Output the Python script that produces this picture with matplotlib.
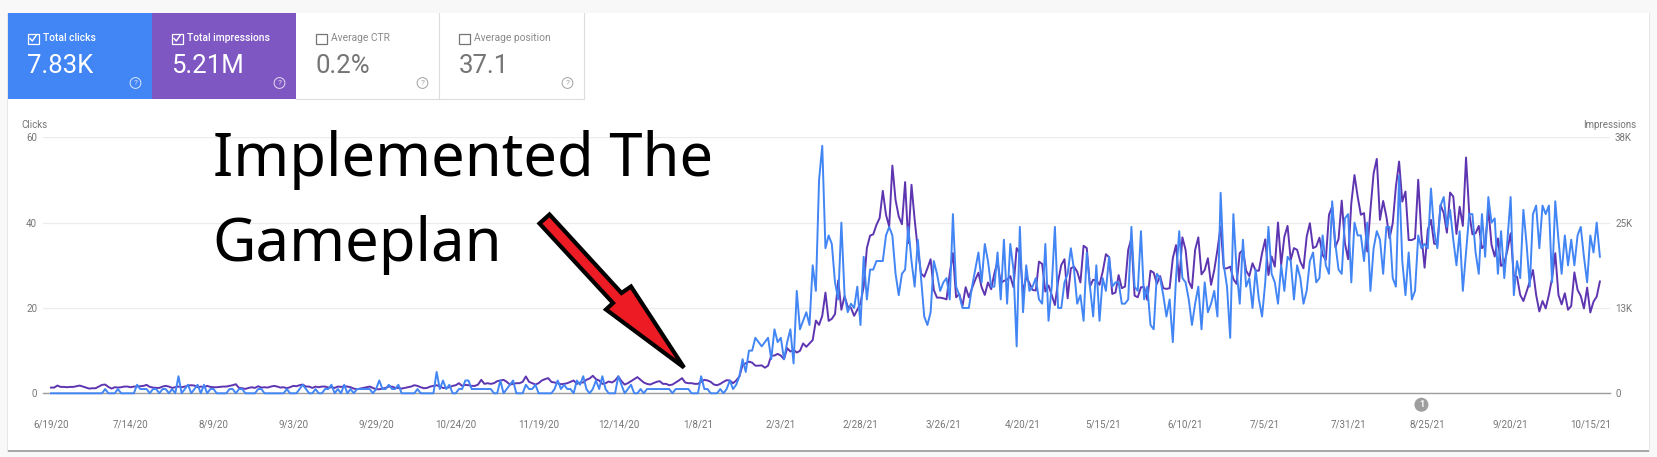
from matplotlib import pyplot as plt
from matplotlib.patches import Rectangle, Circle, Polygon
import pandas as pd

plt.rcParams['font.family'] = ['Roboto', 'DejaVu Sans']

W, H = 1657, 457

########################################################
# data
tick_dates = ['6/19/20', '7/14/20', '8/9/20', '9/3/20', '9/29/20', '10/24/20', '11/19/20', '12/14/20', '1/8/21',
              '2/3/21', '2/28/21', '3/26/21', '4/20/21', '5/15/21', '6/10/21', '7/5/21', '7/31/21', '8/25/21',
              '9/20/21', '10/15/21']
clicks_ticks = [0, 20, 40, 60]
impressions_ticks = [0, 12667, 25333, 38000]
impressions_labels = ['0', '13K', '25K', '38K']
annotation_date = '8/23/21'

clicks = [0, 0, 0, 0, 0, 0, 0, 0, 0, 0,
          0, 0, 0, 0, 0, 0, 0, 1, 0, 0,
          0, 1, 0, 0, 0, 0, 0, 2, 1, 1,
          1, 0, 1, 1, 0, 1, 1, 0, 1, 0,
          4, 0, 1, 2, 0, 1, 2, 0, 2, 0,
          1, 1, 0, 0, 0, 0, 1, 1, 0, 1,
          1, 0, 0, 0, 0, 1, 1, 0, 0, 0,
          0, 0, 0, 0, 1, 0, 0, 0, 1, 2,
          1, 0, 0, 1, 0, 0, 1, 1, 2, 0,
          1, 0, 2, 0, 1, 0, 1, 1, 1, 1,
          1, 0, 1, 3, 1, 1, 2, 1, 1, 2,
          0, 0, 0, 0, 0, 1, 0, 0, 0, 0,
          0, 5, 1, 3, 1, 2, 0, 0, 1, 1,
          3, 3, 1, 1, 1, 1, 1, 1, 1, 0,
          0, 3, 0, 1, 2, 3, 0, 0, 0, 2,
          1, 1, 2, 0, 0, 0, 0, 0, 1, 3,
          1, 2, 1, 1, 0, 3, 2, 4, 1, 0,
          1, 3, 1, 4, 1, 0, 0, 0, 4, 2,
          0, 1, 2, 0, 0, 1, 0, 1, 1, 1,
          1, 1, 1, 1, 1, 0, 1, 1, 1, 1,
          1, 0, 0, 0, 4, 1, 1, 0, 0, 0,
          1, 0, 1, 3, 1, 2, 4, 8, 5, 10,
          10, 13, 12, 11, 12, 13, 8, 15, 12, 13,
          8, 12, 15, 7, 24, 15, 17, 19, 16, 30,
          24, 50, 58, 34, 37, 35, 26, 22, 40, 23,
          19, 21, 20, 25, 16, 32, 22, 29, 29, 31,
          31, 31, 37, 39, 37, 28, 23, 28, 29, 39,
          31, 25, 36, 27, 18, 16, 19, 31, 28, 24,
          26, 27, 22, 42, 25, 23, 20, 20, 20, 25,
          29, 33, 26, 35, 31, 25, 25, 33, 22, 36,
          21, 35, 29, 11, 39, 19, 30, 24, 25, 27,
          22, 21, 35, 17, 25, 39, 20, 20, 26, 28,
          34, 29, 21, 23, 17, 33, 25, 18, 30, 17,
          27, 24, 32, 25, 26, 26, 21, 21, 22, 39,
          25, 24, 38, 22, 25, 16, 15, 28, 27, 23,
          18, 22, 12, 27, 38, 27, 26, 22, 16, 21,
          25, 15, 26, 19, 21, 24, 18, 47, 30, 25,
          13, 42, 29, 21, 36, 25, 27, 20, 29, 22,
          18, 26, 39, 28, 26, 21, 30, 24, 32, 31,
          22, 30, 27, 21, 24, 31, 33, 26, 27, 37,
          30, 28, 45, 35, 29, 28, 41, 42, 26, 40,
          37, 37, 31, 40, 24, 34, 38, 36, 28, 39,
          39, 27, 25, 51, 31, 23, 33, 22, 24, 37,
          34, 35, 34, 48, 38, 34, 44, 46, 39, 43,
          36, 30, 38, 24, 33, 42, 42, 33, 28, 42,
          32, 46, 40, 41, 28, 38, 27, 36, 46, 23,
          31, 27, 43, 35, 25, 42, 44, 34, 44, 42,
          44, 26, 45, 36, 28, 37, 30, 36, 30, 37,
          39, 32, 26, 37, 33, 40, 32]

impressions = [850, 850, 1150, 950, 950, 900, 950, 950, 1050, 1150,
               1000, 850, 700, 750, 750, 1000, 1250, 1300, 950, 700,
               900, 850, 900, 1000, 1000, 900, 1000, 1000, 1050, 1100,
               1250, 950, 850, 800, 800, 1000, 1100, 1000, 800, 900,
               1000, 900, 1000, 1150, 1200, 1150, 900, 1000, 900, 1100,
               950, 900, 900, 950, 1000, 1000, 1100, 1200, 1350, 800,
               750, 650, 800, 900, 800, 1050, 850, 900, 850, 1000,
               1100, 1000, 850, 900, 750, 900, 1100, 1050, 1200, 1300,
               1000, 1000, 800, 1000, 900, 1000, 1000, 850, 900, 800,
               1000, 950, 1050, 1000, 900, 700, 600, 700, 800, 900,
               1000, 800, 600, 600, 700, 800, 1000,
               1000, 800, 800, 700, 800, 900, 1000, 1200, 1100, 900,
               750, 800, 1000, 1100, 1200, 1000, 800, 800, 900, 1100,
               1200, 1500, 1100, 1250, 1200, 1100, 1100, 1300, 2000, 1400,
               1500, 1400, 1500, 1800, 1900, 2000, 1700, 1300, 1400, 1500,
               1500, 1700, 2500, 1700, 1500, 1300, 1500, 1900, 2100, 2250,
               1700, 1600, 1500, 1350, 1400, 1500, 1700, 1900, 1400, 1600,
               1600, 2000, 2200, 2600, 2100, 1900, 1400, 1500, 1750, 1600,
               1900, 2500, 1800, 1300, 1500, 1800, 2100, 2400, 2000, 1600,
               1400, 1300, 1500, 1700, 1800, 1400, 1400, 1200, 1300, 1600,
               1900, 2250, 1600, 1500, 1500, 1400, 1400, 1700, 2000, 1900,
               1700, 1300, 1200, 1400, 1700, 1950, 1900, 1500,
               1900, 2500, 4200, 4450, 4700, 4550, 4100, 4100, 4150, 3800,
               4100, 5600, 5600, 5850, 5600, 5050, 6700, 6200, 6450, 6050,
               6300, 7400, 6900, 7400, 7900, 10800, 10150, 11500, 14950, 10750,
               11050, 11750, 16750, 12400, 14450, 12850, 12700, 11500, 12400, 13350,
               15850, 21550, 23400, 23600, 25000, 26000, 30050, 26500, 24750, 33800,
               28700, 26250, 25100, 31350, 22300, 30950, 25750, 21300, 17800, 17300,
               18550, 19900, 15350, 14200, 14200,
               14100, 13950, 17800, 20800, 14250, 14750, 12950, 15750, 14250, 15600,
               16850, 17900, 15750, 14600, 16450, 15450, 17800, 19550, 16350, 16700,
               16850, 17400, 15750, 21550, 20800, 14850, 17300, 16350, 15350, 15250,
               19550, 19200, 15100, 16000, 14600, 13100, 16600, 19050, 19900, 14100,
               18550, 18800, 18050, 16450, 21900, 21550, 15850, 16850, 16750, 16100,
               18050, 20650, 20200, 14750, 14950, 17550, 15600, 15850, 21300, 23000,
               14500, 14250, 15750, 15750, 13850, 18200, 17900, 16250, 17400,
               15600, 15500, 15600, 20050, 22000, 16600, 23150, 21300, 16600, 15600,
               21300, 23150, 17650, 18300, 20050, 16100, 18300, 21300, 24750, 18550,
               18550, 18800, 16950, 16250, 20800, 21300, 18200, 17400, 19300, 18200,
               18200, 20800, 22850, 17550, 20300, 18800, 25350, 19050, 23250, 24850,
               19800, 21550, 21300, 19550, 18550, 23250, 25250, 21550, 21800, 23100,
               20550, 19800, 26500, 27700, 21700, 22900, 28600, 22300, 19900, 28200,
               32400, 29200, 26500, 26750, 21050, 27200, 32650, 34800, 25750,
               28550, 26250, 23000, 25250, 30700, 34400, 28450, 29950, 22750, 22750,
               23000, 31700, 23500, 18650, 24250, 25750, 22200, 22150, 27950, 26750,
               23850, 29800, 29200, 23650, 27700, 24850, 35000, 26750, 23600, 23750,
               24850, 21550, 22050, 27450, 22050, 20300, 23000, 18900, 19300, 21300,
               23750, 17400, 17300, 14600, 13700, 15100, 16600, 18300, 14600, 12150,
               13700, 12600, 14600, 17100, 20800, 14600, 13200, 14850, 12400, 12950,
               17950, 15350, 14450, 12600, 15700, 12000, 13600, 14350, 16600]

tile_titles = ['Total clicks', 'Total impressions', 'Average CTR', 'Average position']
tile_values = ['7.83K', '5.21M', '0.2%', '37.1']
tile_left = [8, 152, 296, 439]
tile_right = [152, 296, 439, 584]
tile_color = ['#4285f4', '#7e57c2', 'white', 'white']
tile_checked = [True, True, False, False]

########################################################
# page, card and tiles, drawn in pixel coordinates
fig = plt.figure(figsize=(W / 100, H / 100), dpi=100, facecolor='#f8f8f8')
bg = fig.add_axes([0, 0, 1, 1], zorder=0)
bg.set_xlim(0, W)
bg.set_ylim(H, 0)
bg.axis('off')
bg.add_patch(Rectangle((7, 13), 1643, 439, fc='#e6e6e6', ec='none'))
bg.add_patch(Rectangle((8, 13), 1641, 438.5, fc='#a8a8a8', ec='none'))
bg.add_patch(Rectangle((8, 13), 1641, 437, fc='white', ec='none'))

for k in range(4):
    x0, x1 = tile_left[k], tile_right[k]
    filled = tile_color[k] != 'white'
    bg.add_patch(Rectangle((x0, 13), x1 - x0, 85.7, fc=tile_color[k], ec='none'))
    if not filled:
        bg.plot([x1 - 0.5, x1 - 0.5], [13, 98.7], color='#dcdcdc', lw=0.8)
        bg.plot([x0, x1], [98.7, 98.7], color='#dcdcdc', lw=0.8)
    off = 19.5
    bg.add_patch(Rectangle((x0 + off, 33.5), 11, 10, fc='none', ec='white' if filled else '#757575', lw=0.9))
    if tile_checked[k]:
        bg.plot([x0 + off + 2.5, x0 + off + 4.8, x0 + off + 8.6], [38.5, 41, 35.5], color='white', lw=1.0)
    bg.text(x0 + off + 15.8, 37.8, tile_titles[k], color='white' if filled else '#8a8a8a', fontsize=7.4,
            fontweight='medium' if filled else 'normal', ha='left', va='center')
    bg.text(x0 + off, 66, tile_values[k], color='white' if filled else '#757575', fontsize=18.5,
            ha='left', va='center')
    bg.add_patch(Circle((x1 - 16.5, 83), 5.4, fc='none', ec='white' if filled else '#8a8a8a', lw=0.7,
                        alpha=0.8))
    bg.text(x1 - 16.5, 83, '?', color='white' if filled else '#8a8a8a', fontsize=6, ha='center', va='center',
            alpha=0.8)

########################################################
# chart
ax_left, ax_right, ax_top, ax_bottom = 43, 1610, 137.3, 393.3
px_per_day = 3.187
first_x = 51
ax1 = fig.add_axes([ax_left / W, 1 - ax_bottom / H, (ax_right - ax_left) / W, (ax_bottom - ax_top) / H], zorder=1)
ax1.patch.set_alpha(0)
ax1.set_xlim((ax_left - first_x) / px_per_day, (ax_right - first_x) / px_per_day)
ax1.set_ylim(0, 60)
for s in ax1.spines.values():
    s.set_visible(False)
ax1.spines['bottom'].set_visible(True)
ax1.spines['bottom'].set_color('#9e9e9e')
ax1.spines['bottom'].set_linewidth(1.0)
ax1.set_yticks(clicks_ticks)
ax1.grid(axis='y', color='#ececec', lw=0.9)
ax1.set_axisbelow(True)
ax1.tick_params(axis='y', length=0, pad=4.3, labelsize=7, labelcolor='#757575')

start = pd.to_datetime(tick_dates[0], format='%m/%d/%y')
tick_days = [(pd.to_datetime(d, format='%m/%d/%y') - start).days for d in tick_dates]
ax1.set_xticks(tick_days)
ax1.set_xticklabels(tick_dates)
ax1.tick_params(axis='x', length=0, pad=19, labelsize=7, labelcolor='#757575')

ax2 = ax1.twinx()
ax2.set_zorder(1)
ax2.set_ylim(0, 38000)
for s in ax2.spines.values():
    s.set_visible(False)
ax2.set_yticks(impressions_ticks)
ax2.set_yticklabels(impressions_labels)
ax2.tick_params(axis='y', length=0, pad=3.6, labelsize=7, labelcolor='#757575')

days = list(range(len(clicks)))
ax2.plot(days, impressions, color='#5e35b1', lw=1.4, clip_on=False, zorder=2)
# clicks go on top, so they share the impressions axes with a scale of their own
ax2.plot(days, [c * 38000 / 60 for c in clicks], color='#4285f4', lw=1.4, clip_on=False, zorder=3)

########################################################
# labels, marker and the hand drawn arrow
top = fig.add_axes([0, 0, 1, 1], zorder=3)
top.set_xlim(0, W)
top.set_ylim(H, 0)
top.axis('off')
top.patch.set_alpha(0)

top.text(21, 124.8, 'Clicks', color='#757575', fontsize=7, ha='left', va='center')
top.text(1636, 124.8, 'Impressions', color='#757575', fontsize=7, ha='right', va='center')

annotation_day = (pd.to_datetime(annotation_date, format='%m/%d/%y') - start).days
marker_x = first_x + annotation_day * px_per_day
top.add_patch(Circle((marker_x, 404.7), 7, fc='#9e9e9e', ec='none'))
top.text(marker_x, 404.5, '1', color='white', fontsize=6.5, fontweight='bold', ha='center', va='center')

top.text(213, 176, 'Implemented The', color='black', fontsize=43, family='Noto Sans', ha='left', va='baseline')
top.text(212, 260.7, 'Gameplan', color='black', fontsize=43, family='Noto Sans', ha='left', va='baseline')

arrow = [(549.5, 214.5), (539.5, 223.5), (613, 303), (606, 309.5), (684, 367.5), (631, 286.5), (621.5, 293)]
top.add_patch(Polygon(arrow, closed=True, fc='#ed1c24', ec='black', lw=3.0, joinstyle='miter'))

fig.savefig('out.png', dpi=100, facecolor=fig.get_facecolor())
